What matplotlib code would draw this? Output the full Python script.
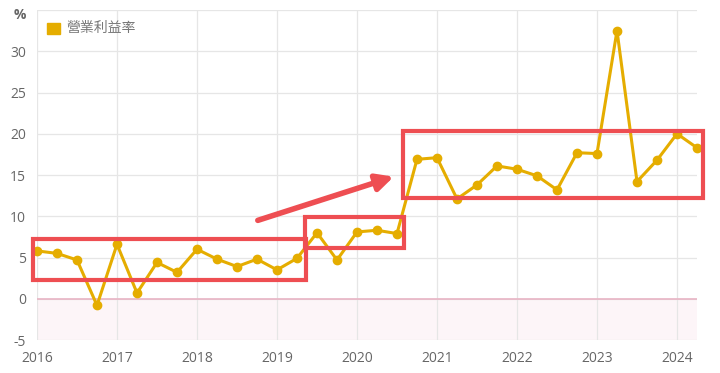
import matplotlib.pyplot as plt
from matplotlib.patches import Rectangle, FancyArrowPatch

plt.rcParams['font.family'] = ['Open Sans', 'Noto Sans CJK TC', 'DejaVu Sans']

# quarterly operating margin (%), starting 2016 Q1
quarters = [2016 + 0.25 * i for i in range(34)]
margin = [5.8, 5.5, 4.7, -0.8, 6.6, 0.7, 4.4, 3.2,
          6.0, 4.8, 3.9, 4.8, 3.5, 4.9, 8.0, 4.7,
          8.1, 8.3, 7.9, 16.9, 17.1, 12.1, 13.8, 16.1,
          15.7, 14.9, 13.2, 17.7, 17.6, 32.5, 14.2, 16.8,
          20.0, 18.3]
years = list(range(2016, 2025))
yticks = [-5, 0, 5, 10, 15, 20, 25, 30]

# highlight boxes: (x0, x1, y0, y1)
boxes = [(2015.95, 2019.36, 2.3, 7.3),
         (2019.35, 2020.59, 6.2, 9.9),
         (2020.58, 2024.32, 12.2, 20.3)]
arrow_from = (2018.76, 9.5)
arrow_to = (2020.46, 14.8)

line_color = '#E5AD00'
grid_color = '#E6E6E6'
text_color = '#666666'

fig = plt.figure(figsize=(7.2, 3.73), dpi=100)
ax = fig.add_axes([37 / 720, 1 - 340 / 373, 660 / 720, 330 / 373])

ax.set_xlim(2016, 2024.25)
ax.set_ylim(-5, 35)

ax.axhspan(-5, 0, color='#FDF5F8', zorder=0)
ax.axhline(0, color='#E8B4C4', lw=1.2, zorder=1)

ax.set_xticks(years)
ax.set_yticks(yticks + [35])
ax.set_yticklabels([str(v) for v in yticks] + [''])
ax.grid(True, color=grid_color, lw=0.9, zorder=0)
ax.set_axisbelow(True)
for s in ax.spines.values():
    s.set_visible(False)
ax.tick_params(length=0, labelsize=10, colors=text_color)
ax.tick_params(axis='x', pad=8)
ax.tick_params(axis='y', pad=8)

ax.plot(quarters, margin, color=line_color, lw=2.2, marker='o', markersize=6,
        zorder=3, clip_on=False, label='營業利益率')

for x0, x1, y0, y1 in boxes:
    ax.add_patch(Rectangle((x0, y0), x1 - x0, y1 - y0, fill=False,
                           edgecolor='#EE4E52', lw=3, zorder=4, clip_on=False))

ax.add_patch(FancyArrowPatch(arrow_from, arrow_to, arrowstyle='-|>',
                             mutation_scale=25, color='#EE4E52', lw=4,
                             shrinkA=0, shrinkB=0, zorder=4))

fig.text(14 / 720, 1 - 15 / 373, '%', fontsize=10, fontweight='bold',
         color=text_color, va='center')
fig.patches.append(Rectangle((47 / 720, 1 - 34 / 373), 13 / 720, 11 / 373,
                             transform=fig.transFigure, color=line_color))
fig.text(66 / 720, 1 - 28 / 373, '營業利益率', fontsize=10, color='#777777',
         va='center', family='Noto Sans CJK TC')

fig.savefig('out.png', dpi=100)
